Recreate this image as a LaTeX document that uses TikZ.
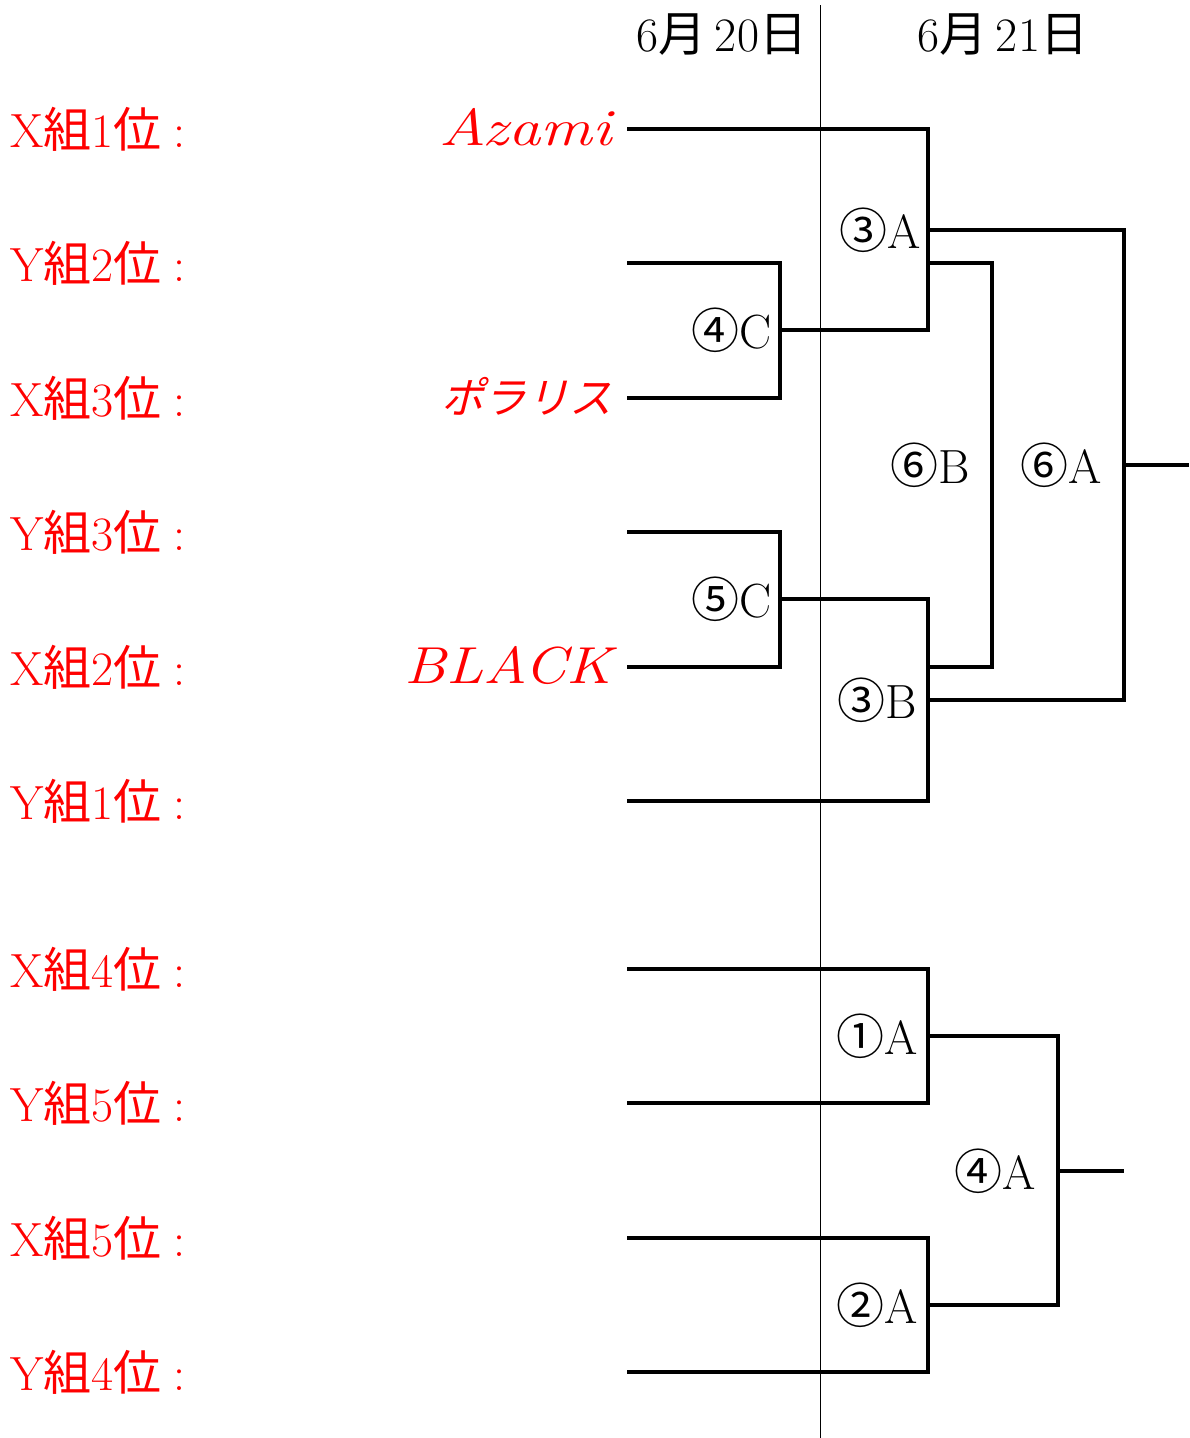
\documentclass[tikz,border=0pt]{standalone}
\usepackage{fontspec}
\newfontfamily\jpf{Noto Sans CJK JP}
\newfontfamily\jpit[FakeSlant=0.25]{Noto Sans CJK JP}
\newcommand\J[1]{{\jpf #1}}
\newcommand\colonsep{\hspace{12pt}:}
\begin{document}
\begin{tikzpicture}[x=1pt,y=-1pt,
  big/.style={font=\fontsize{48}{58}\selectfont, inner sep=0pt},
  team/.style={big, anchor=west, text=red},
  tname/.style={font=\fontsize{52}{62}\selectfont, inner sep=0pt, anchor=east, text=red},
  match/.style={big, anchor=east},
  ln/.style={line width=4pt, line join=miter},
  thin/.style={line width=1pt}]
\useasboundingbox (0,0) rectangle (1189,1438);
% day divider
\coordinate (d1) at (820,5);
\coordinate (d2) at (820,1438);
\draw[thin] (d1) -- (d2);
\node[big] (day1) at (722,35) {6\J{月}\,20\J{日}};
\node[big] (day2) at (1003,35) {6\J{月}\,21\J{日}};
% team labels
\node[team] (l1) at (10,129) {X\J{組}1\J{位}\colonsep};
\node[team] (l2) at (10,263) {Y\J{組}2\J{位}\colonsep};
\node[team] (l3) at (10,398) {X\J{組}3\J{位}\colonsep};
\node[team] (l4) at (10,532) {Y\J{組}3\J{位}\colonsep};
\node[team] (l5) at (10,667) {X\J{組}2\J{位}\colonsep};
\node[team] (l6) at (10,801) {Y\J{組}1\J{位}\colonsep};
\node[team] (l7) at (10,969) {X\J{組}4\J{位}\colonsep};
\node[team] (l8) at (10,1103) {Y\J{組}5\J{位}\colonsep};
\node[team] (l9) at (10,1238) {X\J{組}5\J{位}\colonsep};
\node[team] (l10) at (10,1372) {Y\J{組}4\J{位}\colonsep};
% names
\node[tname] (n1) at (612,127) {\scalebox{1.24}[1]{\itshape Azami}};
\node[tname] (n3) at (612,396) {\scalebox{0.82}{\jpit ポラリス}};
\node[tname] (n5) at (612,665) {\scalebox{1.16}[1]{\itshape BLACK}};
% entry points
\coordinate (e1) at (627,129);
\coordinate (e2) at (627,263);
\coordinate (e3) at (627,398);
\coordinate (e4) at (627,532);
\coordinate (e5) at (627,667);
\coordinate (e6) at (627,801);
\coordinate (e7) at (627,969);
\coordinate (e8) at (627,1103);
\coordinate (e9) at (627,1238);
\coordinate (e10) at (627,1372);
% match points
\coordinate (m4c) at (780,330);
\coordinate (c4c) at (928,330);
\coordinate (m3a) at (928,230);
\coordinate (m5c) at (780,599);
\coordinate (c5c) at (928,599);
\coordinate (c6) at (928,801);
\coordinate (m3b) at (928,700);
\coordinate (s1) at (928,263);
\coordinate (s2) at (992,263);
\coordinate (s3) at (992,667);
\coordinate (s4) at (928,667);
\coordinate (m6a) at (1124,465);
\coordinate (o6a) at (1189,465);
\coordinate (m1a) at (928,1036);
\coordinate (m2a) at (928,1305);
\coordinate (m4a) at (1058,1171);
\coordinate (o4a) at (1124,1171);
% upper bracket
\draw[ln] (e2) -| (m4c) |- (e3);
\draw[ln] (m4c) -- (c4c) -- (m3a) |- (e1);
\draw[ln] (e4) -| (m5c) |- (e5);
\draw[ln] (m5c) -- (c5c) -- (c6) -- (e6);
\draw[ln] (s1) -- (s2) -- (s3) -- (s4);
\draw[ln] (m3a) -| (m6a) |- (m3b);
\draw[ln] (m6a) -- (o6a);
% lower bracket
\draw[ln] (e7) -| (m1a) |- (e8);
\draw[ln] (e9) -| (m2a) |- (e10);
\draw[ln] (m1a) -| (m4a) |- (m2a);
\draw[ln] (m4a) -- (o4a);
% match labels
\node[match] (t3a) at (921,230) {\J{③}A};
\node[match] (t4c) at (772,330) {\J{④}C};
\node[match] (t5c) at (772,599) {\J{⑤}C};
\node[match] (t3b) at (917,700) {\J{③}B};
\node[big] (t6b) at (930,465) {\J{⑥}B};
\node[big] (t6a) at (1061,465) {\J{⑥}A};
\node[match] (t1a) at (918,1036) {\J{①}A};
\node[match] (t2a) at (918,1305) {\J{②}A};
\node[big] (t4a) at (995,1171) {\J{④}A};
\end{tikzpicture}
\end{document}
